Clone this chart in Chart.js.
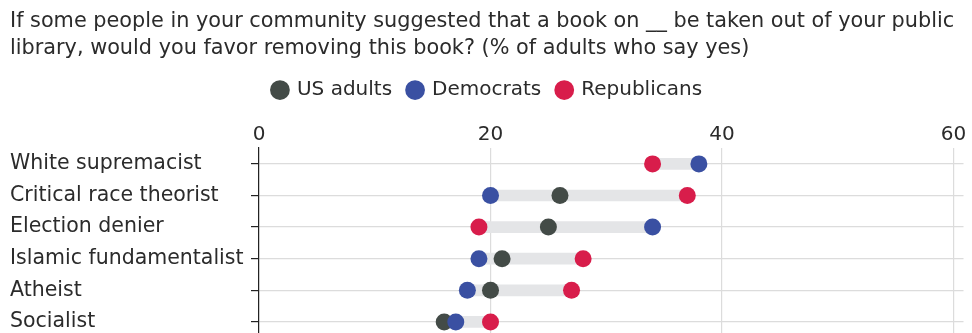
<!DOCTYPE html>
<html>
<head>
<meta charset="utf-8">
<script src="https://cdn.jsdelivr.net/npm/chart.js@4.4.1/dist/chart.umd.min.js"></script>
<style>
  html, body { margin: 0; padding: 0; background: #fff; overflow: hidden; }
  #wrap { width: 972px; height: 358px; }
</style>
</head>
<body>
<div id="wrap"><canvas id="myChart"></canvas></div>
<script>
const categories = ["White supremacist", "Critical race theorist", "Election denier",
  "Islamic fundamentalist", "Atheist", "Socialist"];
const usAdults = [null, 26, 25, 21, 20, 16];
const democrats = [38, 20, 34, 19, 18, 17];
const republicans = [34, 37, 19, 28, 27, 20];
const xTicks = [0, 20, 40, 60];

const font = "'DejaVu Sans', sans-serif";
const textColor = '#2b2b2b';

// gray range bar from lowest to highest dot
const ranges = categories.map((c, i) => {
  const vals = [usAdults[i], democrats[i], republicans[i]].filter(v => v !== null);
  return [Math.min(...vals), Math.max(...vals)];
});

function dots(label, values, color, order) {
  return {
    type: 'line',
    label: label,
    data: categories.map((c, i) => ({ x: values[i], y: c })),
    showLine: false,
    pointRadius: 8.5,
    pointHoverRadius: 8.5,
    pointBackgroundColor: color,
    pointBorderWidth: 0,
    backgroundColor: color,
    borderColor: color,
    order: order,
  };
}

const ctx = document.getElementById('myChart');
new Chart(ctx, {
  type: 'bar',
  data: {
    labels: categories,
    datasets: [
      {
        label: 'range',
        data: ranges,
        backgroundColor: '#e4e5e7',
        barThickness: 11,
        borderWidth: 0,
        order: 10,
      },
      dots('US adults', usAdults, '#434b47', 3),
      dots('Democrats', democrats, '#3a50a2', 2),
      dots('Republicans', republicans, '#d81d4b', 1),
    ]
  },
  options: {
    indexAxis: 'y',
    responsive: true,
    maintainAspectRatio: false,
    animation: false,
    layout: { padding: { left: 10, right: 7, top: 8, bottom: 0 } },
    plugins: {
      title: {
        display: true,
        align: 'start',
        text: ['If some people in your community suggested that a book on __ be taken out of your public',
               'library, would you favor removing this book? (% of adults who say yes)'],
        color: textColor,
        font: { family: font, size: 20.8, weight: 'normal', lineHeight: 1.3 },
        padding: { top: 0, bottom: 2 },
      },
      legend: {
        position: 'top',
        labels: {
          usePointStyle: true,
          pointStyle: 'circle',
          boxWidth: 14,
          boxHeight: 14,
          padding: 16,
          color: textColor,
          font: { family: font, size: 20 },
          filter: (item) => item.text !== 'range',
          sort: (a, b) => a.datasetIndex - b.datasetIndex,
        },
      },
      tooltip: { enabled: false },
    },
    scales: {
      x: {
        type: 'linear',
        position: 'top',
        min: 0,
        max: 60.86,
        afterBuildTicks: (axis) => { axis.ticks = xTicks.map(v => ({ value: v })); },
        afterFit: (axis) => { axis.height += 12; },
        ticks: {
          color: textColor,
          font: { family: font, size: 20 },
          padding: 1,
        },
        grid: { color: '#dcdcdc', drawTicks: false, lineWidth: 1.2 },
        border: { display: false },
      },
      y: {
        type: 'category',
        afterFit: (axis) => { axis.width = 249; },
        grid: { color: '#dcdcdc', tickColor: '#222', tickLength: 8, lineWidth: 1.2, offset: false },
        border: { display: true, color: '#222', width: 1.2 },
        ticks: {
          color: textColor,
          crossAlign: 'far',
          padding: 8,
          font: { family: font, size: 20.5 },
        },
      },
    },
  },
});
</script>
</body>
</html>
